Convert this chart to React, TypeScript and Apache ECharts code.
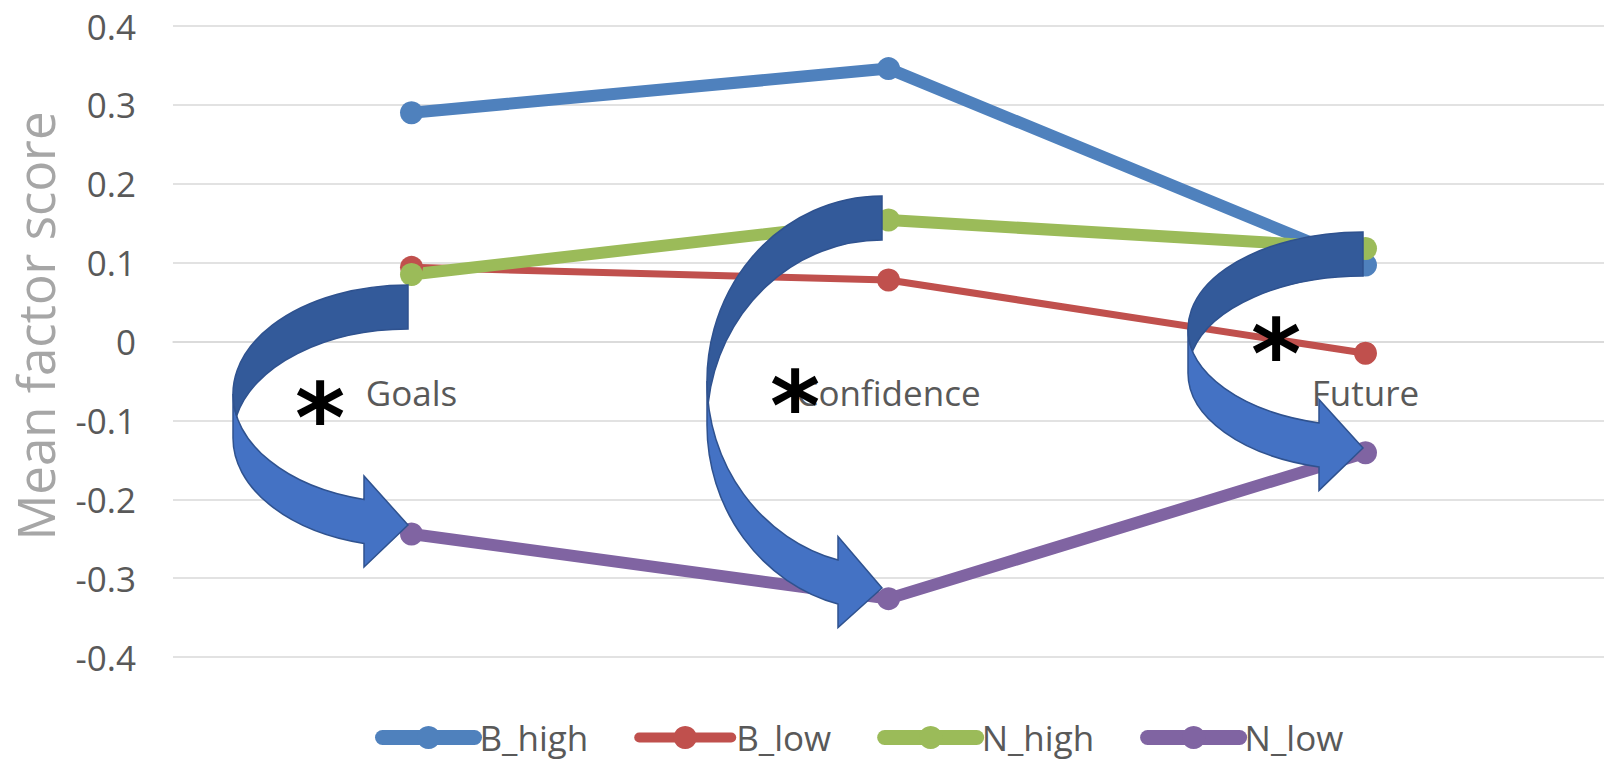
import React, { useEffect, useRef } from "react";
import * as echarts from "echarts";

// Categories along the horizontal axis
const categories = ["Goals", "Confidence", "Future"];

// Mean factor scores per group
const seriesNames = ["B_high", "B_low", "N_high", "N_low"];
const bHigh = [0.29, 0.346, 0.097];
const bLow = [0.094, 0.078, -0.015];
const nHigh = [0.085, 0.154, 0.118];
const nLow = [-0.244, -0.326, -0.141];

// Value axis range and step
const yMin = -0.4;
const yMax = 0.4;
const yStep = 0.1;

const seriesValues = [bHigh, bLow, nHigh, nLow];
const seriesColors = ["#4F81BD", "#C0504D", "#9BBB59", "#8064A2"];
const seriesWidths = [12, 7, 12, 12];
const legendWidths = [15, 10, 15, 15];

// Plot area
const GRID_LEFT = 173;
const GRID_TOP = 26;
const GRID_WIDTH = 1446;
const GRID_HEIGHT = 631;

// Curved "turn-around" arrows drawn over the plot (pixel placement)
const arrowShapes = [
  { left: 233, top: 285, right: 408, hR: 109 },
  { left: 707, top: 196, right: 882, hR: 185 },
  { left: 1188, top: 232, right: 1363, hR: 97 },
];
const ARROW_TH = 44; // band thickness
const ARROW_AW = 91; // arrow head width
const ARROW_AH = 44; // arrow head length

// Significance marks (centre of the glyph)
const starMarks = [
  { x: 320, y: 404 },
  { x: 795, y: 392 },
  { x: 1276, y: 340 },
];
// the bold asterisk glyph sits high in its line box
const STAR_SHIFT = 15;

const FONT = "'Open Sans', 'Liberation Sans', sans-serif";

function arrowPaths(a: { left: number; top: number; right: number; hR: number }) {
  const L = a.left;
  const T = a.top;
  const R = a.right;
  const hR = a.hR;
  const W = R - L;
  const th = ARROW_TH;
  const aw = ARROW_AW;
  const ah = ARROW_AH;
  const x1 = R - ah;
  const dy = hR * Math.sqrt(1 - (ah / W) * (ah / W));
  const y5 = T + hR + dy;
  const y7 = y5 + th;
  const dh = (aw - th) / 2;
  const y4 = y5 - dh;
  const y8 = y7 + dh;
  const y6 = T + 2 * hR + th / 2;
  const py = T + hR + th / 2;
  const px = R - W * Math.sqrt(1 - (th / 2 / hR) * (th / 2 / hR));
  const front =
    `M ${L} ${T + hR} A ${W} ${hR} 0 0 0 ${x1} ${y5} ` +
    `L ${x1} ${y4} L ${R} ${y6} L ${x1} ${y8} L ${x1} ${y7} ` +
    `A ${W} ${hR} 0 0 1 ${L} ${T + hR + th} Z`;
  const back =
    `M ${R} ${T} A ${W} ${hR} 0 0 0 ${px} ${py} ` +
    `A ${W} ${hR} 0 0 1 ${R} ${T + th} Z`;
  return { front, back };
}

export default function App() {
  const ref = useRef<HTMLDivElement>(null);

  useEffect(() => {
    if (!ref.current) return;

    const arrowGraphics: any[] = [];
    arrowShapes.forEach((a, i) => {
      const { front, back } = arrowPaths(a);
      const frontName = `curvedArrowFront${i}`;
      const backName = `curvedArrowBack${i}`;
      echarts.graphic.registerShape(frontName, echarts.graphic.extendPath(front, {}));
      echarts.graphic.registerShape(backName, echarts.graphic.extendPath(back, {}));
      arrowGraphics.push({
        type: frontName,
        x: 0,
        y: 0,
        z: 10,
        style: { fill: "#4472C4", stroke: "#2F528F", lineWidth: 1.5 },
      });
      arrowGraphics.push({
        type: backName,
        x: 0,
        y: 0,
        z: 10,
        style: { fill: "#335A9A", stroke: "#2F528F", lineWidth: 1.5 },
      });
    });

    const starGraphics = starMarks.map((s) => ({
      type: "text",
      x: s.x,
      y: s.y + STAR_SHIFT,
      z: 20,
      style: {
        text: "*",
        fontSize: 96,
        fontWeight: "bold",
        fontFamily: "'DejaVu Sans', sans-serif",
        fill: "#000000",
        align: "center",
        verticalAlign: "middle",
      },
    }));

    // category labels sit on the zero line rather than at the bottom of the plot
    const zeroOffset = -((0 - yMin) / (yMax - yMin)) * GRID_HEIGHT;

    const chart = echarts.init(ref.current, undefined, { renderer: "svg" });
    chart.setOption({
      animation: false,
      backgroundColor: "#FFFFFF",
      grid: { left: GRID_LEFT, top: GRID_TOP, width: GRID_WIDTH, height: GRID_HEIGHT, containLabel: false },
      xAxis: {
        type: "category",
        data: categories,
        boundaryGap: true,
        position: "bottom",
        offset: zeroOffset,
        axisTick: { show: false },
        axisLine: { show: true, onZero: false, lineStyle: { color: "#D9D9D9", width: 1.5 } },
        axisLabel: { fontSize: 35, color: "#595959", fontFamily: FONT, margin: 33 },
        splitLine: { show: false },
      },
      yAxis: {
        type: "value",
        min: yMin,
        max: yMax,
        interval: yStep,
        axisLine: { show: false },
        axisTick: { show: false },
        axisLabel: {
          fontSize: 35,
          color: "#595959",
          fontFamily: FONT,
          margin: 37,
          formatter: (v: number) => String(Number(v.toFixed(1))),
        },
        splitLine: { show: true, lineStyle: { color: "#D9D9D9", width: 1.5 } },
      },
      legend: {
        left: 375,
        top: 720,
        padding: 0,
        itemWidth: 92,
        itemHeight: 29,
        itemGap: 46,
        textStyle: { fontSize: 35, color: "#595959", fontFamily: FONT },
        data: seriesNames.map((n, i) => ({
          name: n,
          lineStyle: { width: legendWidths[i], cap: "round", color: seriesColors[i] },
          itemStyle: { color: seriesColors[i] },
        })),
      },
      series: seriesNames.map((n, i) => ({
        name: n,
        type: "line",
        data: seriesValues[i],
        symbol: "circle",
        symbolSize: 23,
        color: seriesColors[i],
        itemStyle: { color: seriesColors[i] },
        lineStyle: { color: seriesColors[i], width: seriesWidths[i], cap: "round", join: "round" },
        emphasis: { disabled: true },
      })),
      graphic: [
        {
          type: "text",
          x: 35,
          y: 326,
          rotation: Math.PI / 2,
          style: {
            text: "Mean factor score",
            fontSize: 51,
            fontFamily: FONT,
            fill: "#A6A6A6",
            align: "center",
            verticalAlign: "middle",
          },
        },
        ...arrowGraphics,
        ...starGraphics,
      ],
    });

    return () => {
      chart.dispose();
    };
  }, []);

  return (
    <div
      ref={ref}
      style={{ position: "fixed", left: 0, top: 0, width: 1604, height: 760, background: "#fff" }}
    />
  );
}
